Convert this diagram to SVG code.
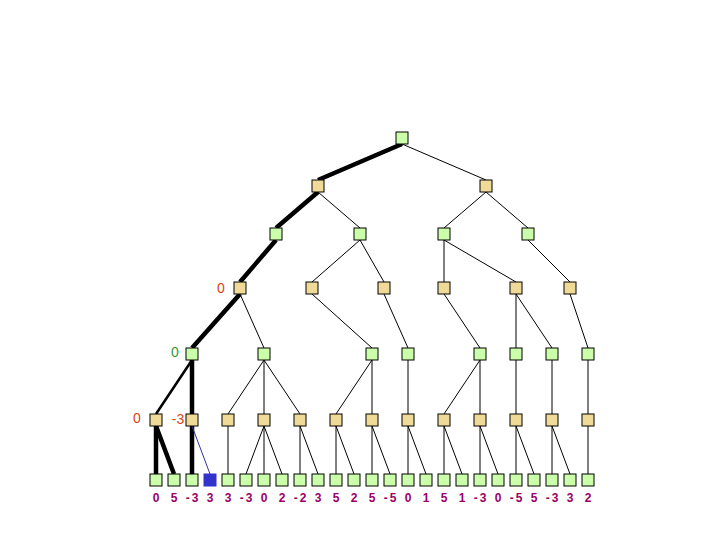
<svg xmlns="http://www.w3.org/2000/svg" width="720" height="540" viewBox="0 0 720 540">
<style>
.g{fill:#ccffaa;stroke:#000;stroke-width:1}
.t{fill:#f0da98;stroke:#000;stroke-width:1}
.b{fill:#3333cc;stroke:#3333cc;stroke-width:1}
.e{stroke:#000;stroke-width:1;fill:none}
.k{stroke:#000;stroke-width:4.5;fill:none}
.m{stroke:#000;stroke-width:2.5;fill:none}
.bl{stroke:#333399;stroke-width:1;fill:none}
.lv{font-family:'Liberation Sans',Arial,sans-serif;font-weight:bold;font-size:12px;fill:#990066;text-anchor:middle;letter-spacing:2px}
.lr{font-family:'Liberation Sans',Arial,sans-serif;font-size:14px;fill:#dd4411;text-anchor:middle}
.lg{font-family:'Liberation Sans',Arial,sans-serif;font-size:14px;fill:#339933;text-anchor:middle}
</style>
<rect width="720" height="540" fill="#fff"/>
<g id="annotations">
<text class="lr" x="221" y="293">0</text>
<text class="lg" x="175" y="357">0</text>
<text class="lr" x="137" y="423">0</text>
<text class="lr" x="178" y="424">-3</text>
</g>
<g id="connectors">
<line class="k" x1="402" y1="144" x2="318" y2="180"/>
<line class="e" x1="402" y1="144" x2="486" y2="180"/>
<line class="k" x1="318" y1="192" x2="276" y2="228"/>
<line class="e" x1="318" y1="192" x2="360" y2="228"/>
<line class="e" x1="486" y1="192" x2="444" y2="228"/>
<line class="e" x1="486" y1="192" x2="528" y2="228"/>
<line class="k" x1="276" y1="240" x2="240" y2="282"/>
<line class="e" x1="360" y1="240" x2="312" y2="282"/>
<line class="e" x1="360" y1="240" x2="384" y2="282"/>
<line class="e" x1="444" y1="240" x2="444" y2="282"/>
<line class="e" x1="444" y1="240" x2="516" y2="282"/>
<line class="e" x1="528" y1="240" x2="570" y2="282"/>
<line class="k" x1="240" y1="294" x2="192" y2="348"/>
<line class="e" x1="240" y1="294" x2="264" y2="348"/>
<line class="e" x1="312" y1="294" x2="372" y2="348"/>
<line class="e" x1="384" y1="294" x2="408" y2="348"/>
<line class="e" x1="444" y1="294" x2="480" y2="348"/>
<line class="e" x1="516" y1="294" x2="516" y2="348"/>
<line class="e" x1="516" y1="294" x2="552" y2="348"/>
<line class="e" x1="570" y1="294" x2="588" y2="348"/>
<line class="m" x1="192" y1="360" x2="156" y2="414"/>
<line class="k" x1="192" y1="360" x2="192" y2="414"/>
<line class="e" x1="264" y1="360" x2="228" y2="414"/>
<line class="e" x1="264" y1="360" x2="264" y2="414"/>
<line class="e" x1="264" y1="360" x2="300" y2="414"/>
<line class="e" x1="372" y1="360" x2="336" y2="414"/>
<line class="e" x1="372" y1="360" x2="372" y2="414"/>
<line class="e" x1="408" y1="360" x2="408" y2="414"/>
<line class="e" x1="480" y1="360" x2="444" y2="414"/>
<line class="e" x1="480" y1="360" x2="480" y2="414"/>
<line class="e" x1="516" y1="360" x2="516" y2="414"/>
<line class="e" x1="552" y1="360" x2="552" y2="414"/>
<line class="e" x1="588" y1="360" x2="588" y2="414"/>
<line class="k" x1="156" y1="426" x2="156" y2="474"/>
<line class="k" x1="156" y1="426" x2="174" y2="474"/>
<line class="k" x1="192" y1="426" x2="192" y2="474"/>
<line class="bl" x1="192" y1="426" x2="210" y2="474"/>
<line class="e" x1="228" y1="426" x2="228" y2="474"/>
<line class="e" x1="264" y1="426" x2="246" y2="474"/>
<line class="e" x1="264" y1="426" x2="264" y2="474"/>
<line class="e" x1="264" y1="426" x2="282" y2="474"/>
<line class="e" x1="300" y1="426" x2="300" y2="474"/>
<line class="e" x1="300" y1="426" x2="318" y2="474"/>
<line class="e" x1="336" y1="426" x2="336" y2="474"/>
<line class="e" x1="336" y1="426" x2="354" y2="474"/>
<line class="e" x1="372" y1="426" x2="372" y2="474"/>
<line class="e" x1="372" y1="426" x2="390" y2="474"/>
<line class="e" x1="408" y1="426" x2="408" y2="474"/>
<line class="e" x1="408" y1="426" x2="426" y2="474"/>
<line class="e" x1="444" y1="426" x2="444" y2="474"/>
<line class="e" x1="444" y1="426" x2="462" y2="474"/>
<line class="e" x1="480" y1="426" x2="480" y2="474"/>
<line class="e" x1="480" y1="426" x2="498" y2="474"/>
<line class="e" x1="516" y1="426" x2="516" y2="474"/>
<line class="e" x1="516" y1="426" x2="534" y2="474"/>
<line class="e" x1="552" y1="426" x2="552" y2="474"/>
<line class="e" x1="552" y1="426" x2="570" y2="474"/>
<line class="e" x1="588" y1="426" x2="588" y2="474"/>
</g>
<g id="level0"><rect id="n0" class="g" x="396" y="132" width="12" height="12"/></g>
<g id="level1">
<rect id="n1a" class="t" x="312" y="180" width="12" height="12"/>
<rect id="n1b" class="t" x="480" y="180" width="12" height="12"/>
</g>
<g id="level2">
<rect id="n2a" class="g" x="270" y="228" width="12" height="12"/>
<rect id="n2b" class="g" x="354" y="228" width="12" height="12"/>
<rect id="n2c" class="g" x="438" y="228" width="12" height="12"/>
<rect id="n2d" class="g" x="522" y="228" width="12" height="12"/>
</g>
<g id="level3">
<rect id="n3a" class="t" x="234" y="282" width="12" height="12"/>
<rect id="n3b" class="t" x="306" y="282" width="12" height="12"/>
<rect id="n3c" class="t" x="378" y="282" width="12" height="12"/>
<rect id="n3d" class="t" x="438" y="282" width="12" height="12"/>
<rect id="n3e" class="t" x="510" y="282" width="12" height="12"/>
<rect id="n3f" class="t" x="564" y="282" width="12" height="12"/>
</g>
<g id="level4">
<rect id="n4a" class="g" x="186" y="348" width="12" height="12"/>
<rect id="n4b" class="g" x="258" y="348" width="12" height="12"/>
<rect id="n4c" class="g" x="366" y="348" width="12" height="12"/>
<rect id="n4d" class="g" x="402" y="348" width="12" height="12"/>
<rect id="n4e" class="g" x="474" y="348" width="12" height="12"/>
<rect id="n4f" class="g" x="510" y="348" width="12" height="12"/>
<rect id="n4g" class="g" x="546" y="348" width="12" height="12"/>
<rect id="n4h" class="g" x="582" y="348" width="12" height="12"/>
</g>
<g id="level5">
<rect id="n5a" class="t" x="150" y="414" width="12" height="12"/>
<rect id="n5b" class="t" x="186" y="414" width="12" height="12"/>
<rect id="n5c" class="t" x="222" y="414" width="12" height="12"/>
<rect id="n5d" class="t" x="258" y="414" width="12" height="12"/>
<rect id="n5e" class="t" x="294" y="414" width="12" height="12"/>
<rect id="n5f" class="t" x="330" y="414" width="12" height="12"/>
<rect id="n5g" class="t" x="366" y="414" width="12" height="12"/>
<rect id="n5h" class="t" x="402" y="414" width="12" height="12"/>
<rect id="n5i" class="t" x="438" y="414" width="12" height="12"/>
<rect id="n5j" class="t" x="474" y="414" width="12" height="12"/>
<rect id="n5k" class="t" x="510" y="414" width="12" height="12"/>
<rect id="n5l" class="t" x="546" y="414" width="12" height="12"/>
<rect id="n5m" class="t" x="582" y="414" width="12" height="12"/>
</g>
<g id="leaves">
<rect class="g" x="150" y="474" width="12" height="12"/>
<rect class="g" x="168" y="474" width="12" height="12"/>
<rect class="g" x="186" y="474" width="12" height="12"/>
<rect class="b" x="204" y="474" width="12" height="12"/>
<rect class="g" x="222" y="474" width="12" height="12"/>
<rect class="g" x="240" y="474" width="12" height="12"/>
<rect class="g" x="258" y="474" width="12" height="12"/>
<rect class="g" x="276" y="474" width="12" height="12"/>
<rect class="g" x="294" y="474" width="12" height="12"/>
<rect class="g" x="312" y="474" width="12" height="12"/>
<rect class="g" x="330" y="474" width="12" height="12"/>
<rect class="g" x="348" y="474" width="12" height="12"/>
<rect class="g" x="366" y="474" width="12" height="12"/>
<rect class="g" x="384" y="474" width="12" height="12"/>
<rect class="g" x="402" y="474" width="12" height="12"/>
<rect class="g" x="420" y="474" width="12" height="12"/>
<rect class="g" x="438" y="474" width="12" height="12"/>
<rect class="g" x="456" y="474" width="12" height="12"/>
<rect class="g" x="474" y="474" width="12" height="12"/>
<rect class="g" x="492" y="474" width="12" height="12"/>
<rect class="g" x="510" y="474" width="12" height="12"/>
<rect class="g" x="528" y="474" width="12" height="12"/>
<rect class="g" x="546" y="474" width="12" height="12"/>
<rect class="g" x="564" y="474" width="12" height="12"/>
<rect class="g" x="582" y="474" width="12" height="12"/>
</g>
<g id="leaf-values">
<text class="lv" x="157" y="502">0</text>
<text class="lv" x="175" y="502">5</text>
<text class="lv" x="193" y="502">-3</text>
<text class="lv" x="211" y="502">3</text>
<text class="lv" x="229" y="502">3</text>
<text class="lv" x="247" y="502">-3</text>
<text class="lv" x="265" y="502">0</text>
<text class="lv" x="283" y="502">2</text>
<text class="lv" x="301" y="502">-2</text>
<text class="lv" x="319" y="502">3</text>
<text class="lv" x="337" y="502">5</text>
<text class="lv" x="355" y="502">2</text>
<text class="lv" x="373" y="502">5</text>
<text class="lv" x="391" y="502">-5</text>
<text class="lv" x="409" y="502">0</text>
<text class="lv" x="427" y="502">1</text>
<text class="lv" x="445" y="502">5</text>
<text class="lv" x="463" y="502">1</text>
<text class="lv" x="481" y="502">-3</text>
<text class="lv" x="499" y="502">0</text>
<text class="lv" x="517" y="502">-5</text>
<text class="lv" x="535" y="502">5</text>
<text class="lv" x="553" y="502">-3</text>
<text class="lv" x="571" y="502">3</text>
<text class="lv" x="589" y="502">2</text>
</g>
</svg>
